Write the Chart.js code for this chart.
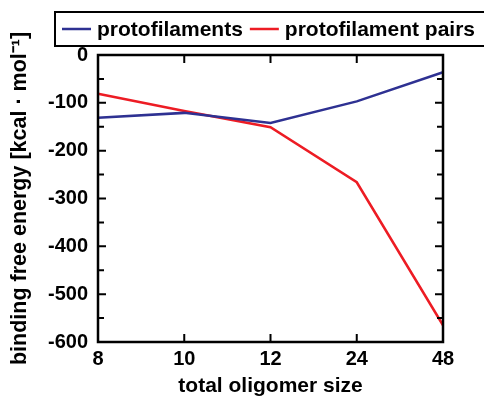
<!DOCTYPE html>
<html><head><meta charset="utf-8">
<script src="https://cdn.jsdelivr.net/npm/chart.js@4/dist/chart.umd.min.js"></script>
<style>html,body{margin:0;padding:0;background:#fff;}#wrap{width:484px;height:397px;}</style>
</head><body><div id="wrap"><canvas id="c" width="484" height="397"></canvas></div>
<script>
const categories = ['8', '10', '12', '24', '48'];
const protofilaments = [-131, -121, -142, -97, -36];
const protofilamentPairs = [-81, -117, -151, -266, -565];
const seriesNames = ['protofilaments', 'protofilament pairs'];
const seriesColors = ['#2e3192', '#ed1c24'];
const yTicks = [0, -100, -200, -300, -400, -500, -600];

const FONT = "'Liberation Sans', Arial, sans-serif";

const framePlugin = {
  id: 'frame',
  afterDraw(chart) {
    const ctx = chart.ctx, a = chart.chartArea;
    const xs = chart.scales.x, ys = chart.scales.y;
    ctx.save();
    ctx.strokeStyle = '#000';
    ctx.lineWidth = 2.5;
    ctx.strokeRect(a.left, a.top, a.right - a.left, a.bottom - a.top);
    ctx.lineWidth = 2;
    ctx.beginPath();
    for (let i = 1; i < categories.length - 1; i++) {
      const x = xs.getPixelForValue(i);
      ctx.moveTo(x, a.bottom); ctx.lineTo(x, a.bottom - 8);
      ctx.moveTo(x, a.top); ctx.lineTo(x, a.top + 8);
    }
    for (let v = 0; v >= -600; v -= 50) {
      const y = ys.getPixelForValue(v);
      if (v === 0 || v === -600) continue;
      const len = (v % 100 === 0) ? 8 : 6;
      ctx.moveTo(a.left, y); ctx.lineTo(a.left + len, y);
      ctx.moveTo(a.right, y); ctx.lineTo(a.right - len, y);
    }
    ctx.stroke();
    // legend
    ctx.lineWidth = 2;
    ctx.strokeRect(55, 12, 440, 34);
    ctx.font = 'bold 21px ' + FONT;
    ctx.textBaseline = 'middle';
    ctx.textAlign = 'left';
    let x = 62;
    chart.data.datasets.forEach((ds) => {
      ctx.strokeStyle = ds.borderColor;
      ctx.lineWidth = 2.5;
      ctx.beginPath(); ctx.moveTo(x, 29); ctx.lineTo(x + 29, 29); ctx.stroke();
      ctx.fillStyle = '#000';
      ctx.fillText(ds.label, x + 35, 30);
      x += 35 + ctx.measureText(ds.label).width + 7;
    });
    ctx.restore();
  }
};

new Chart(document.getElementById('c'), {
  type: 'line',
  data: {
    labels: categories,
    datasets: [
      { label: seriesNames[0], data: protofilaments, borderColor: seriesColors[0], borderWidth: 2.5, pointRadius: 0, tension: 0, fill: false },
      { label: seriesNames[1], data: protofilamentPairs, borderColor: seriesColors[1], borderWidth: 2.5, pointRadius: 0, tension: 0, fill: false }
    ]
  },
  options: {
    responsive: false,
    animation: false,
    layout: { padding: { left: 0, top: 55, right: 41, bottom: 0 } },
    plugins: { legend: { display: false }, tooltip: { enabled: false } },
    scales: {
      x: {
        type: 'category',
        offset: false,
        grid: { display: false, drawTicks: false },
        border: { display: false },
        ticks: { color: '#000', font: { family: FONT, size: 20, weight: 'bold' }, padding: 5, maxRotation: 0 },
        title: { display: true, text: 'total oligomer size', color: '#000', font: { family: FONT, size: 21, weight: 'bold', lineHeight: 1 }, padding: { top: 0, bottom: 0 } },
        afterFit(s) { s.height = 55; }
      },
      y: {
        min: -600, max: 0,
        grid: { display: false, drawTicks: false },
        border: { display: false },
        afterBuildTicks(s) { s.ticks = yTicks.map(v => ({ value: v })); },
        ticks: { color: '#000', font: { family: FONT, size: 20, weight: 'bold' }, padding: 10 },
        title: { display: true, text: 'binding free energy [kcal · mol⁻¹]', color: '#000', font: { family: FONT, size: 21.5, weight: 'bold', lineHeight: 1.2 }, padding: { top: 7, bottom: 4 } },
        afterFit(s) { s.width = 98; }
      }
    }
  },
  plugins: [framePlugin]
});
</script></body></html>
